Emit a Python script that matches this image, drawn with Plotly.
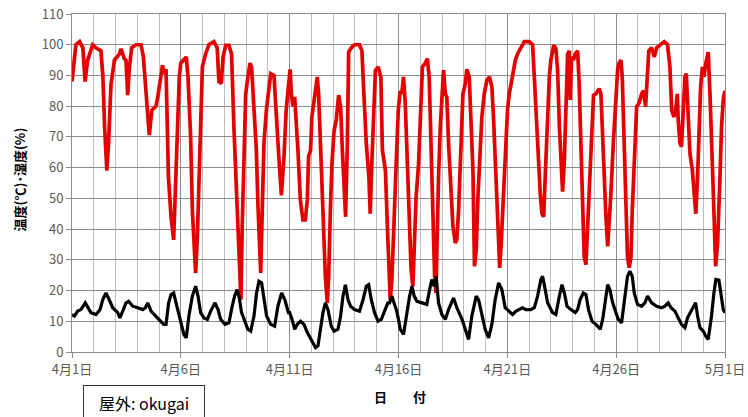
import pandas as pd
import plotly.graph_objects as go

# ---- data (elapsed days since 4/1 0:00) ----
hum_days = [0.0, 0.18, 0.35, 0.5, 0.6, 0.72, 0.95, 1.1, 1.33, 1.42, 1.5, 1.56, 1.6, 1.68, 1.79, 1.95,
            2.18, 2.25, 2.4, 2.48, 2.56, 2.63, 2.74, 2.94, 3.17, 3.28, 3.4, 3.55, 3.67, 3.86, 3.94,
            4.09, 4.16, 4.24, 4.32, 4.43, 4.55, 4.67, 4.78, 4.93, 5.0, 5.15, 5.25, 5.33, 5.45, 5.53,
            5.6, 5.68, 5.76, 5.83, 5.91, 5.99, 6.14, 6.29, 6.52, 6.67, 6.75, 6.86, 6.94, 7.06, 7.21,
            7.33, 7.44, 7.55, 7.64, 7.72, 7.76, 7.82, 7.9, 7.98, 8.08, 8.18, 8.25, 8.36, 8.47, 8.54,
            8.62, 8.67, 8.74, 8.82, 8.93, 9.02, 9.13, 9.28, 9.4, 9.51, 9.62, 9.74, 9.84, 9.97, 10.02,
            10.08, 10.15, 10.23, 10.3, 10.38, 10.49, 10.61, 10.72, 10.81, 10.87, 10.96, 11.02, 11.15,
            11.27, 11.33, 11.41, 11.53, 11.64, 11.73, 11.79, 11.87, 11.94, 12.04, 12.14, 12.25, 12.34,
            12.42, 12.5, 12.57, 12.65, 12.71, 12.83, 12.98, 13.21, 13.32, 13.41, 13.52, 13.64, 13.7,
            13.78, 13.87, 13.94, 14.07, 14.19, 14.26, 14.4, 14.49, 14.56, 14.62, 14.7, 14.79, 14.9,
            14.99, 15.04, 15.08, 15.15, 15.23, 15.31, 15.39, 15.49, 15.58, 15.66, 15.72, 15.81, 15.92,
            16.0, 16.1, 16.23, 16.33, 16.41, 16.49, 16.58, 16.66, 16.72, 16.76, 16.84, 16.92, 17.0,
            17.07, 17.15, 17.22, 17.3, 17.41, 17.5, 17.61, 17.68, 17.76, 17.87, 17.96, 18.07, 18.14,
            18.25, 18.33, 18.42, 18.49, 18.57, 18.65, 18.72, 18.83, 18.94, 19.06, 19.18, 19.29, 19.37,
            19.47, 19.57, 19.65, 19.72, 19.83, 19.94, 20.01, 20.09, 20.17, 20.27, 20.37, 20.47, 20.62,
            20.78, 21.0, 21.16, 21.24, 21.34, 21.42, 21.51, 21.59, 21.67, 21.74, 21.82, 21.93, 22.0,
            22.13, 22.23, 22.31, 22.39, 22.46, 22.54, 22.62, 22.69, 22.77, 22.85, 22.89, 22.95, 23.04,
            23.12, 23.23, 23.3, 23.38, 23.46, 23.53, 23.61, 23.69, 23.76, 23.87, 23.96, 24.07, 24.22,
            24.3, 24.38, 24.45, 24.53, 24.61, 24.68, 24.76, 24.87, 24.99, 25.07, 25.13, 25.22, 25.28,
            25.37, 25.45, 25.52, 25.6, 25.68, 25.74, 25.83, 25.94, 26.05, 26.17, 26.26, 26.35, 26.43,
            26.5, 26.63, 26.75, 26.86, 27.01, 27.21, 27.36, 27.47, 27.55, 27.65, 27.73, 27.81, 27.85,
            27.93, 28.0, 28.08, 28.16, 28.22, 28.28, 28.39, 28.5, 28.59, 28.66, 28.74, 28.8, 28.88,
            28.96, 29.03, 29.12, 29.23, 29.31, 29.38, 29.49, 29.57, 29.66, 29.77, 29.84, 29.93, 30.0]
hum_vals = [88, 100, 101, 99, 88, 95, 100, 99, 98, 89.5, 73, 66, 59, 68, 87, 95,
            97, 98.7, 95.5, 95, 83.6, 92, 99, 100, 100, 96, 86, 70.6, 78.7, 80, 83,
            89.5, 93.3, 90.6, 92, 57, 44, 36.5, 57, 89.5, 94, 95, 96, 89.5, 70, 46,
            33, 25.7, 37.6, 57, 78.7, 92.8, 97, 100, 101, 99, 88, 87.4, 96, 99.8, 99.8,
            97, 73, 51.7, 33, 18, 17, 41, 68, 84, 89.5, 94, 92.8, 78.7, 65.7, 48.4,
            29, 25.7, 46, 68, 78.7, 85, 90.6, 90, 73, 62.5, 51, 63.6, 78.7, 89.5, 92,
            84, 80, 83, 75.5, 65.7, 49.5, 43, 43, 49.5, 63.6, 65.7, 76.5, 84,
            89.5, 84, 68, 44, 24.6, 16, 24, 46, 61, 72, 75.5, 83.6, 79.8,
            65.7, 50.6, 44, 68, 97.6, 99, 100, 100, 98, 84, 68, 57, 45,
            62.5, 84, 91.7, 92.8, 89.5, 65.7, 59, 40.8, 24.6, 17, 24, 46, 62.5,
            78.7, 82, 85, 84, 89.5, 81, 62.5, 40.9, 26.8, 21.4, 33, 50.6, 61,
            78.7, 92.8, 94, 95.5, 89.5, 68, 40.9, 24.6, 19.2, 33, 57, 73.3, 84,
            91.7, 84, 83, 68, 51.7, 40.9, 35.5, 36.5, 46, 68, 84, 87.4, 92,
            89.5, 73.3, 59.2, 27.9, 33, 50.6, 62.5, 76.5, 84, 88.4, 89.5, 86.3, 75.5,
            57, 37.6, 27.4, 35.5, 51.7, 65.7, 79, 84, 87.4, 90.6, 95, 97, 99,
            101, 101, 100, 89.5, 73.3, 65.7, 51.7, 45, 44, 57, 73.3, 89.5, 95,
            99.8, 98.7, 91.7, 73.3, 60.3, 52.2, 62.5, 78.7, 97, 98, 82, 96, 95,
            97, 98, 87.4, 68, 46, 31, 28.4, 40.9, 57, 73.3, 83.6, 84, 85.7,
            84, 68, 51.7, 44, 34.4, 40.9, 51.7, 68, 84, 92, 94, 95, 89.5,
            68, 46, 31, 27.4, 31, 46, 62.5, 79.8, 81, 84, 85, 79.8, 89.5,
            98, 99, 96, 99, 100, 101, 100, 92.8, 78.7, 76.5, 78.7, 84, 75.5,
            68, 66.8, 78.7, 89.5, 90.6, 78.7, 64.6, 59.2, 51.7, 45, 57, 73.3, 86.3,
            92.8, 89.5, 94, 97.6, 84, 65.7, 46, 27.9, 35.5, 57, 73.3, 83, 85]

temp_days = [0.0, 0.11, 0.26, 0.41, 0.61, 0.72, 0.87, 1.1, 1.29, 1.41, 1.56, 1.71, 1.87, 2.1, 2.2,
             2.33, 2.48, 2.6, 2.79, 3.02, 3.25, 3.37, 3.48, 3.63, 3.86, 4.09, 4.21, 4.32, 4.44, 4.55,
             4.67, 4.78, 4.93, 5.02, 5.14, 5.25, 5.37, 5.53, 5.68, 5.79, 5.91, 6.06, 6.22, 6.37, 6.57,
             6.71, 6.83, 7.03, 7.21, 7.36, 7.47, 7.59, 7.67, 7.79, 7.93, 8.08, 8.21, 8.36, 8.48, 8.59,
             8.71, 8.82, 8.94, 9.13, 9.31, 9.46, 9.63, 9.78, 9.94, 10.0, 10.11, 10.23, 10.35, 10.5,
             10.66, 10.81, 10.99, 11.19, 11.3, 11.41, 11.53, 11.64, 11.76, 11.91, 12.04, 12.22, 12.34,
             12.45, 12.56, 12.68, 12.8, 12.98, 13.21, 13.37, 13.52, 13.63, 13.75, 13.9, 14.06, 14.21,
             14.39, 14.51, 14.59, 14.7, 14.79, 14.9, 15.0, 15.08, 15.23, 15.36, 15.51, 15.62, 15.72,
             15.85, 16.07, 16.3, 16.43, 16.53, 16.64, 16.73, 16.84, 16.99, 17.15, 17.3, 17.53, 17.68,
             17.92, 18.07, 18.22, 18.37, 18.57, 18.68, 18.83, 18.98, 19.14, 19.29, 19.44, 19.6, 19.75,
             19.9, 20.0, 20.09, 20.24, 20.4, 20.55, 20.7, 20.85, 21.08, 21.24, 21.39, 21.54, 21.62,
             21.74, 21.85, 22.08, 22.23, 22.39, 22.51, 22.62, 22.74, 22.92, 23.12, 23.23, 23.34, 23.49,
             23.61, 23.73, 23.89, 24.07, 24.27, 24.38, 24.5, 24.61, 24.71, 24.84, 24.99, 25.1, 25.25,
             25.4, 25.52, 25.63, 25.74, 25.83, 25.98, 26.17, 26.32, 26.44, 26.63, 26.86, 27.09, 27.24,
             27.39, 27.52, 27.7, 27.85, 28.0, 28.16, 28.28, 28.44, 28.54, 28.65, 28.74, 28.85, 29.0,
             29.11, 29.23, 29.38, 29.49, 29.58, 29.72, 29.81, 29.92, 30.0]
temp_vals = [12.2, 11.7, 13.3, 13.8, 16, 14.4, 12.8, 12.2, 13.8, 17, 19.2, 17, 14.4, 12.8, 11.1,
             13.3, 16, 16.5, 14.9, 14.4, 13.8, 14.4, 16, 13.3, 11.7, 10, 9, 9, 16, 18.7,
             19.2, 16, 11.7, 8.4, 5.7, 4.6, 11.7, 18.2, 21.4, 18.2, 12.8, 11.1, 10.6, 13.3, 16,
             13.8, 10.6, 9, 9.5, 14.9, 18.2, 20.3, 18.2, 12.8, 10, 7.4, 6.8, 11.7, 19.2, 23,
             22.5, 17, 11.7, 9, 8.4, 14.9, 19.2, 17, 12.8, 12.8, 10.6, 7.4, 9, 10,
             9, 6.3, 4.1, 1.4, 2, 7.4, 12.8, 16, 13.8, 8.4, 6.8, 7.4, 11.7,
             18.2, 21.9, 17, 14.9, 13.8, 13.3, 17, 21.4, 21.9, 17, 12.8, 10, 10.6,
             13.8, 16, 16, 18.2, 16, 13.8, 10.6, 7.4, 5.7, 11.7, 18.2, 21.4, 18.2,
             16.5, 16, 15.5, 20.3, 23.6, 21.4, 24.6, 16, 12.2, 10.6, 13.8, 17.6, 14.4,
             10.6, 7.4, 4.1, 11.7, 18.2, 17, 11.7, 7.4, 4.6, 9, 17, 22.5, 20.3,
             14.4, 13.8, 13.3, 12.2, 13.3, 13.8, 14.4, 13.8, 13.8, 14.4, 18.2, 23.6, 24.6,
             20.3, 16, 12.8, 12.2, 18.2, 21.9, 19.2, 14.9, 13.8, 12.8, 13.8, 17, 19.2,
             18.7, 13.8, 10, 9, 7.4, 10.6, 16, 21.9, 20.3, 16, 12.8, 10.6, 9.5,
             18.2, 24.6, 26.3, 24.6, 19.2, 15.5, 14.9, 16, 18.2, 16, 14.9, 14.4, 14.9,
             16, 14.4, 13.3, 11.1, 9, 7.9, 11.1, 13.3, 14.4, 16, 11.7, 7.9, 6.8,
             5.2, 4.1, 11.7, 19.2, 23.6, 23.4, 18.2, 13.8, 12.8]

tick_dates = ["2013-04-01", "2013-04-06", "2013-04-11", "2013-04-16", "2013-04-21", "2013-04-26", "2013-05-01"]
tick_labels = ["4月1日", "4月6日", "4月11日", "4月16日", "4月21日", "4月26日", "5月1日"]
y_ticks = [0, 10, 20, 30, 40, 50, 60, 70, 80, 90, 100, 110]

start = pd.Timestamp("2013-04-01")
hum_x = start + pd.to_timedelta(hum_days, unit="D")
temp_x = start + pd.to_timedelta(temp_days, unit="D")

JP = "Noto Sans CJK JP"

fig = go.Figure()
fig.add_trace(go.Scatter(x=hum_x, y=hum_vals, mode="lines", name="湿度",
                         line=dict(color="#e30000", width=3.7), showlegend=False))
fig.add_trace(go.Scatter(x=temp_x, y=temp_vals, mode="lines", name="温度",
                         line=dict(color="#000000", width=3.2), showlegend=False))

fig.update_layout(
    width=748, height=417,
    margin=dict(l=72, r=23, t=14, b=65),
    paper_bgcolor="white", plot_bgcolor="white",
    font=dict(family=JP, size=12, color="#595959"),
    xaxis=dict(
        type="date",
        range=[tick_dates[0], tick_dates[-1]],
        tickmode="array", tickvals=tick_dates, ticktext=tick_labels,
        showgrid=True, gridcolor="#8c8c8c", gridwidth=1,
        ticks="outside", ticklen=5, tickcolor="#8c8c8c",
        showline=True, linecolor="#8c8c8c", mirror=True,
        minor=dict(dtick=86400000, tick0="2013-04-01", showgrid=True,
                   gridcolor="#bdbdbd", gridwidth=1, ticks=""),
        tickfont=dict(family=JP, size=13, color="#595959"),
        zeroline=False, automargin=False,
    ),
    yaxis=dict(
        range=[0, 110], tickmode="array", tickvals=y_ticks,
        showgrid=True, gridcolor="#8c8c8c", gridwidth=1,
        ticks="outside", ticklen=5, tickcolor="#8c8c8c",
        showline=True, linecolor="#8c8c8c", mirror=True,
        tickfont=dict(family=JP, size=13, color="#595959"),
        zeroline=False, automargin=False,
    ),
)

fig.add_annotation(text="<b>温度(℃)･湿度(%)</b>", xref="paper", yref="paper",
                   x=-0.08, y=0.51, textangle=-90, showarrow=False,
                   font=dict(family=JP, size=13, color="#000000"),
                   xanchor="center", yanchor="middle")
fig.add_annotation(text="<b>日　　付</b>", xref="paper", yref="paper",
                   x=0.502, y=-0.133, showarrow=False,
                   font=dict(family=JP, size=13, color="#000000"),
                   xanchor="center", yanchor="middle")
fig.add_annotation(text="屋外: okugai", xref="paper", yref="paper",
                   x=0.0168, y=-0.0976, xanchor="left", yanchor="top",
                   showarrow=False, width=118, height=32,
                   bordercolor="#333333", borderwidth=1, bgcolor="white",
                   font=dict(family=JP, size=16, color="#000000"))

fig.write_html("out.html", config={"displayModeBar": False},
               post_script="document.body.style.margin='0';document.body.style.overflow='hidden';")
